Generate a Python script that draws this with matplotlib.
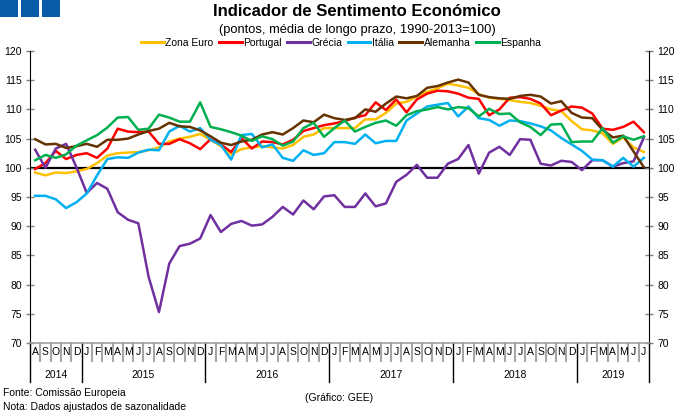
import matplotlib.pyplot as plt
import matplotlib.transforms as mtransforms
from matplotlib.patches import Rectangle
from matplotlib.lines import Line2D

plt.rcParams['font.family'] = ['Liberation Sans', 'DejaVu Sans']

# meses de ago/2014 a jul/2019
meses = ['A', 'S', 'O', 'N', 'D'] + ['J', 'F', 'M', 'A', 'M', 'J', 'J', 'A', 'S', 'O', 'N', 'D'] * 4 \
    + ['J', 'F', 'M', 'A', 'M', 'J', 'J']
anos = ['2014', '2015', '2016', '2017', '2018', '2019']
meses_por_ano = [5, 12, 12, 12, 12, 7]

zona_euro = [99.2, 98.7, 99.2, 99.1, 99.4, 99.8, 100.8, 102.1, 102.5, 102.6, 102.7, 103.0,
             103.5, 104.5, 105.0, 105.3, 105.8, 104.8, 103.7, 102.3, 103.2, 103.5, 103.7, 103.5,
             103.3, 103.9, 105.3, 105.7, 106.8, 106.8, 106.8, 106.8, 108.3, 108.3, 109.4, 111.0,
             111.3, 112.2, 113.0, 113.6, 114.4, 114.1, 113.7, 112.6, 112.0, 111.8, 111.6, 111.3,
             111.1, 110.6, 110.0, 109.7, 108.0, 106.6, 106.4, 105.9, 104.1, 105.2, 103.5, 102.7]
portugal = [99.8, 100.8, 102.9, 101.5, 102.2, 102.5, 101.7, 103.3, 106.7, 106.2, 106.1, 106.2,
            104.1, 104.1, 104.9, 104.2, 103.2, 104.9, 104.0, 102.7, 105.1, 103.3, 104.5, 104.4,
            104.0, 104.8, 106.3, 106.8, 107.3, 107.6, 108.0, 108.6, 109.0, 111.2, 109.9, 111.7,
            109.5, 111.7, 112.7, 113.2, 113.1, 112.7, 112.0, 111.8, 109.0, 110.0, 112.0, 112.1,
            111.8, 111.0, 109.0, 109.8, 110.5, 110.3, 109.3, 106.7, 106.5, 107.0, 107.9, 106.1]
grecia = [103.1, 100.0, 103.3, 104.1, 100.1, 95.7, 97.4, 96.4, 92.4, 91.1, 90.5, 81.3,
          75.3, 83.6, 86.6, 87.0, 87.9, 91.9, 89.0, 90.4, 90.9, 90.1, 90.3, 91.6,
          93.3, 92.0, 94.4, 92.9, 95.1, 95.3, 93.3, 93.3, 95.6, 93.4, 93.9, 97.6,
          98.8, 100.5, 98.3, 98.3, 100.7, 101.5, 103.9, 99.0, 102.6, 103.6, 102.2, 104.9,
          104.8, 100.7, 100.4, 101.2, 101.0, 99.6, 101.3, 101.3, 100.2, 100.8, 101.1, 105.2]
italia = [95.2, 95.2, 94.6, 93.1, 94.1, 95.6, 98.7, 101.5, 101.8, 101.7, 102.6, 103.1,
          103.0, 106.2, 107.2, 106.2, 106.8, 104.8, 103.9, 101.4, 105.6, 105.8, 103.5, 104.0,
          101.7, 101.2, 103.0, 102.2, 102.5, 104.4, 104.4, 104.1, 105.7, 104.2, 104.6, 104.6,
          108.1, 109.3, 110.5, 110.8, 111.1, 108.8, 110.5, 108.5, 108.2, 107.2, 108.1, 108.0,
          107.6, 107.1, 106.4, 105.1, 104.0, 102.9, 101.4, 101.3, 100.2, 101.7, 100.2, 101.7]
alemanha = [104.9, 104.0, 104.1, 103.4, 103.7, 104.1, 103.6, 104.8, 104.8, 105.0, 105.7, 106.3,
            106.7, 107.7, 107.1, 107.0, 106.4, 105.4, 104.3, 103.9, 104.5, 104.8, 105.7, 106.1,
            105.7, 106.8, 108.1, 107.8, 109.1, 108.5, 108.2, 108.5, 110.0, 109.6, 111.0, 112.2,
            111.9, 112.3, 113.7, 114.0, 114.6, 115.1, 114.6, 112.5, 112.1, 111.9, 111.8, 112.3,
            112.5, 112.2, 111.0, 111.4, 109.4, 108.6, 108.5, 106.5, 105.2, 105.5, 102.8, 100.1]
espanha = [101.3, 102.2, 101.7, 102.3, 103.8, 104.7, 105.6, 106.9, 108.6, 108.7, 106.5, 106.7,
           109.1, 108.6, 107.9, 107.9, 111.2, 107.0, 106.6, 106.1, 105.5, 104.6, 105.4, 104.9,
           103.8, 104.5, 106.8, 107.7, 105.3, 106.8, 108.1, 106.2, 107.0, 107.7, 108.1, 107.2,
           109.0, 109.7, 110.0, 110.4, 110.0, 110.4, 110.2, 108.8, 110.1, 109.2, 109.3, 107.8,
           107.0, 105.6, 107.4, 107.5, 104.4, 104.5, 104.5, 106.8, 104.3, 105.4, 104.8, 105.4]

series = [('Zona Euro', zona_euro, '#ffc000'),
          ('Portugal', portugal, '#ff0000'),
          ('Grécia', grecia, '#7030a0'),
          ('Itália', italia, '#00b0f0'),
          ('Alemanha', alemanha, '#663300'),
          ('Espanha', espanha, '#00b050')]

W, H = 680, 415
fig = plt.figure(figsize=(W / 100, H / 100), dpi=100)
ax = fig.add_axes([30 / W, (H - 343) / H, (649 - 30) / W, (343 - 51) / H])
alt = 343 - 51  # altura do grafico em pixeis

x = [i + 0.5 for i in range(len(meses))]
ax.axhline(100, color='black', lw=1.6, zorder=1)
for nome, vals, cor in series:
    ax.plot(x, vals, color=cor, lw=1.8, label=nome, zorder=3)

ax.set_xlim(0, len(meses))
ax.set_ylim(70, 120)
ax.set_yticks(range(70, 121, 5))
ax.set_xticks([])
ax.tick_params(axis='y', direction='inout', length=6, width=1, color='#808080',
               left=True, right=True, labelleft=True, labelright=True, labelsize=7.5, pad=3)
ax.spines['top'].set_visible(False)
ax.spines['left'].set_color('black')
ax.spines['right'].set_color('black')
ax.spines['bottom'].set_color('#a0a0a0')
ax.spines['bottom'].set_linewidth(1.2)

# eixo das datas feito à mão
trans = mtransforms.blended_transform_factory(ax.transData, ax.transAxes)
limites = [0]
for n in meses_por_ano:
    limites.append(limites[-1] + n)
for k in range(1, len(meses)):
    if k not in limites:
        ax.plot([k, k], [0, -18 / alt], color='#a6a6a6', lw=1.5, transform=trans, clip_on=False)
for k in limites:
    ax.plot([k, k], [0, -39 / alt], color='black', lw=1, transform=trans, clip_on=False)
for i, m in enumerate(meses):
    ax.text(i + 0.5, -9 / alt, m, transform=trans, ha='center', va='center', fontsize=7.5)
for j, a in enumerate(anos):
    ax.text((limites[j] + limites[j + 1]) / 2, -32 / alt, a, transform=trans,
            ha='center', va='center', fontsize=7.5)

# titulo, legenda, notas
fig.text(357 / W, 1 - 12 / H, 'Indicador de Sentimento Económico', ha='center', va='center',
         fontsize=12, fontweight='bold')
fig.text(357 / W, 1 - 30 / H, '(pontos, média de longo prazo, 1990-2013=100)', ha='center',
         va='center', fontsize=9.3)
handles = [Line2D([], [], color=c, lw=2.2) for _, _, c in series]
fig.legend(handles, [s[0] for s in series], loc='center', bbox_to_anchor=(341 / W, 1 - 43 / H),
           ncol=6, frameon=False, fontsize=7.5, handlelength=2.2, handletextpad=0.15,
           columnspacing=0.5, borderpad=0, borderaxespad=0)

fig.text(3 / W, 1 - 393 / H, 'Fonte: Comissão Europeia', va='center', fontsize=7.5)
fig.text(3 / W, 1 - 407 / H, 'Nota: Dados ajustados de sazonalidade', va='center', fontsize=7.5)
fig.text(339 / W, 1 - 398 / H, '(Gráfico: GEE)', ha='center', va='center', fontsize=7.5)

# logotipo: tres quadrados azuis
for x0 in [0, 21, 42]:
    fig.patches.append(Rectangle((x0 / W, 1 - 17 / H), 18 / W, 17 / H, facecolor='#0b5ca8',
                                 edgecolor='none', transform=fig.transFigure, figure=fig))

fig.savefig('out.png', dpi=100)
